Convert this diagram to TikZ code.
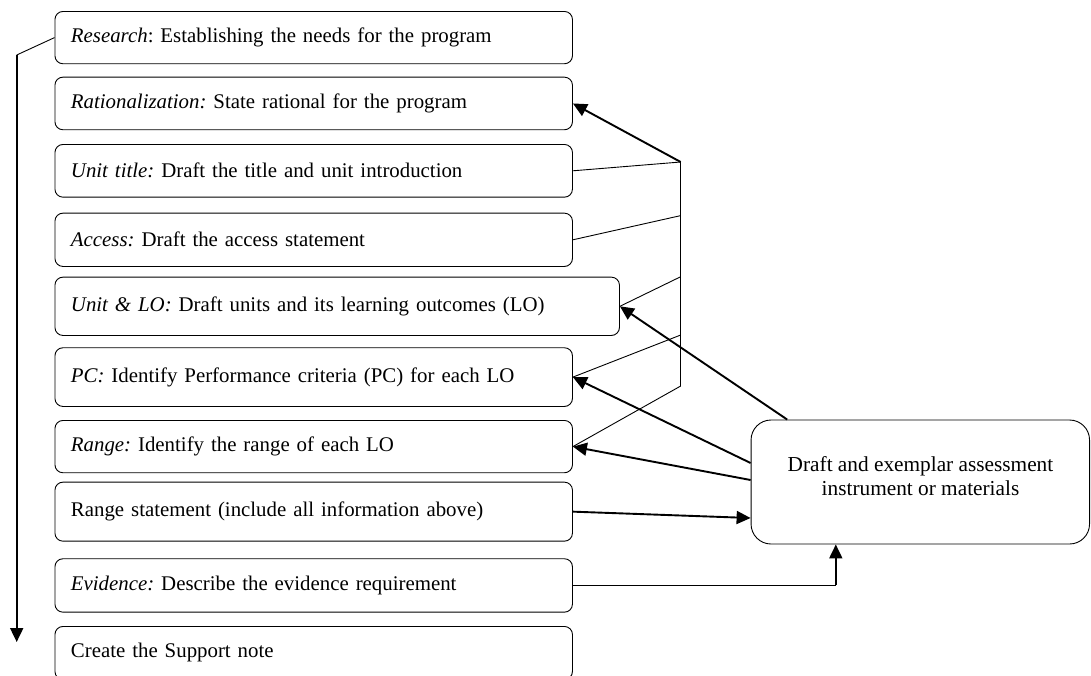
\documentclass[tikz,border=0pt]{standalone}
\usepackage{fontspec}
\setmainfont{Liberation Serif}
\usetikzlibrary{arrows.meta,calc}
\begin{document}
\frenchspacing
\begin{tikzpicture}[x=1pt,y=-1pt,
  txt/.style={font=\fontsize{21.3}{24.3}\selectfont\frenchspacing},
  stepbox/.style={draw, line width=0.9pt, rounded corners=8pt,
    font=\fontsize{20.85}{24}\selectfont\frenchspacing,
    anchor=north west, inner xsep=16pt, inner ysep=0pt,
    text width=485.5pt, align=left},
  widebox/.style={stepbox, text width=532.5pt},
  bigbox/.style={draw, line width=0.9pt, rounded corners=20pt,
    minimum width=338.5pt, minimum height=124pt},
  conn/.style={line width=0.9pt},
  arr/.style={line width=1.9pt, -{Triangle[length=14pt,width=13pt]}}]
\useasboundingbox (0,0) rectangle (1091,675);
\clip (0,0) rectangle (1091,675);

% left column of steps
\node[stepbox, minimum height=52.3pt] (r1) at (54.5,11)
  {\textit{Research}: Establishing the needs for the program};
\node[stepbox, minimum height=52.6pt] (r2) at (54.5,76.7)
  {\textit{Rationalization:} State rational for the program};
\node[stepbox, minimum height=52.7pt] (r3) at (54.5,144)
  {\textit{Unit title:} Draft the title and unit introduction};
\node[stepbox, minimum height=53.3pt] (r4) at (54.5,212.7)
  {\textit{Access:} Draft the access statement};
\node[widebox, minimum height=58.3pt] (r5) at (54.5,276.7)
  {\textit{Unit \& LO:} Draft units and its learning outcomes (LO)};
\node[stepbox, minimum height=58.7pt] (r6) at (54.5,347.3)
  {\textit{PC:} Identify Performance criteria (PC) for each LO};
\node[stepbox, minimum height=52.3pt] (r7) at (54.5,420)
  {\textit{Range:} Identify the range of each LO};
\node[stepbox, minimum height=59pt] (r8) at (54.5,481.7)
  {Range statement (include all information above)};
\node[stepbox, minimum height=53.4pt] (r9) at (54.5,558.3)
  {\textit{Evidence:} Describe the evidence requirement};
\node[stepbox, minimum height=53pt] (r10) at (54.5,626)
  {Create the Support note};

% assessment box
\node[bigbox] (big) at (920.3,482) {};
\node[txt, align=center] (bigtext) at (920.5,476)
  {Draft and exemplar assessment\\instrument or materials};

% sequence arrow on the left
\coordinate (lt) at (16.7,55);
\coordinate (lb) at (16.7,642);
\draw[conn] (r1.west) -- (lt);
\draw[arr] (lt) -- (lb);

% collecting bar
\coordinate (jt) at (680.7,162);
\coordinate (j4) at (680.7,215.6);
\coordinate (j5) at (680.7,276.7);
\coordinate (j6) at (680.7,335);
\coordinate (jb) at (680.7,386);
\draw[conn] (jt) -- (jb);
\draw[conn] (r3.east) -- (jt);
\draw[conn] (r4.east) -- (j4);
\draw[conn] (r5.east) -- (j5);
\draw[conn] (r6.east) -- (j6);
\draw[conn] (r7.east) -- (jb);
\draw[arr] (jt) -- (r2.east);

% links with the assessment box
\draw[arr] ([xshift=36.6pt]big.north west) -- (r5.east);
\draw[arr] ([yshift=19pt]big.west) -- (r6.east);
\draw[arr] ([yshift=2pt]big.west) -- (r7.east);
\draw[arr] (r8.east) -- ([yshift=-36pt]big.west);
\coordinate (evb) at ([xshift=-84.5pt]big.south);
\coordinate (ev) at (evb |- r9.east);
\draw[conn] (r9.east) -- (ev);
\draw[arr] (ev) -- (evb);
\end{tikzpicture}
\end{document}
